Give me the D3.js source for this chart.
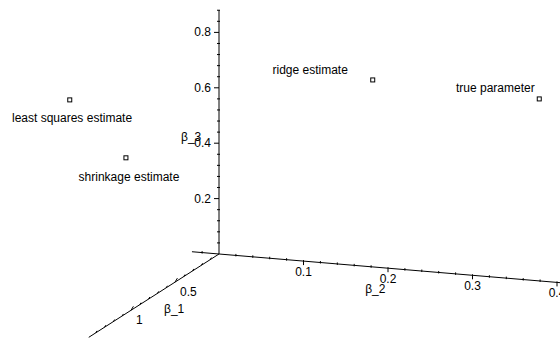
<!DOCTYPE html>
<html>
<head>
<meta charset="utf-8">
<script src="https://cdn.jsdelivr.net/npm/d3@7"></script>
<style>
  html, body { margin: 0; padding: 0; background: #fff; }
  svg { display: block; font-family: "Liberation Sans", Arial, sans-serif; }
</style>
</head>
<body>
<svg id="chart" width="560" height="343"></svg>
<script>
// estimates in (beta_1, beta_2, beta_3)
const names = ["least squares estimate", "shrinkage estimate", "ridge estimate", "true parameter"];
const beta1 = [1.6, 1.0, 0.5, 0.0];
const beta2 = [-0.01, -0.006, 0.234, 0.379];
const beta3 = [0.879, 0.549, 0.79, 0.657];
// where each caption sits in the same 3d space
const labelBeta1 = [1.6, 1.0, 0.5, 0.0];
const labelBeta2 = [-0.0073, -0.0024, 0.16, 0.327];
const labelBeta3 = [0.814, 0.481, 0.807, 0.683];

const b1TickLabels = [0.5, 1];
const b2TickLabels = [0.1, 0.2, 0.3, 0.4];
const b3TickLabels = [0.2, 0.4, 0.6, 0.8];

const width = 560, height = 343;
const origin = [219, 254];

// orthographic projection: each axis contributes a screen vector
const b1x = d3.scaleLinear().domain([0, 1]).range([0, -88]);
const b1y = d3.scaleLinear().domain([0, 1]).range([0, 56.3]);
const b2x = d3.scaleLinear().domain([0, 1]).range([0, 845]);
const b2y = d3.scaleLinear().domain([0, 1]).range([0, 71]);
const b3y = d3.scaleLinear().domain([0, 1]).range([0, -277]);
const project = (a, b, c) => [origin[0] + b1x(a) + b2x(b), origin[1] + b1y(a) + b2y(b) + b3y(c)];

const svg = d3.select("#chart");
svg.append("rect").attr("width", width).attr("height", height).attr("fill", "#fff");

const axes = svg.append("g").attr("stroke", "#000").attr("fill", "none").attr("stroke-width", 1);
const line = (p, q) => axes.append("line").attr("x1", p[0]).attr("y1", p[1]).attr("x2", q[0]).attr("y2", q[1]);

// axis lines
line(project(0, 0, 0), project(1.48, 0, 0));
line(project(0, -0.032, 0), project(0, 0.46, 0));
line(project(0, 0, 0), project(0, 0, 0.88));

const isMajor = (v, list) => list.some(t => Math.abs(t - v) < 1e-6);

// beta_1 ticks
d3.range(1, 15).map(i => i * 0.1).forEach(v => {
  const p = project(v, 0, 0);
  const len = isMajor(v, b1TickLabels) ? 4 : 2;
  line([p[0], p[1]], [p[0] + len * 0.6, p[1] - len]);
});
// beta_2 ticks
d3.range(-1, 23).map(i => i * 0.02).forEach(v => {
  if (Math.abs(v) < 1e-6) return;
  const p = project(0, v, 0);
  if (isMajor(v, b2TickLabels)) line([p[0], p[1] - 1], [p[0], p[1] + 4]);
  else line([p[0], p[1] - 1.5], [p[0], p[1] + 1]);
});
// beta_3 ticks
d3.range(1, 23).map(i => i * 0.04).forEach(v => {
  const p = project(0, 0, v);
  if (isMajor(v, b3TickLabels)) line([p[0] - 5, p[1]], [p[0], p[1]]);
  else line([p[0] - 2, p[1]], [p[0] + 1, p[1]]);
});

const text = svg.append("g").attr("fill", "#000").attr("font-size", 12);
b1TickLabels.forEach(v => {
  const p = project(v, 0, 0);
  text.append("text").attr("x", p[0] + 5).attr("y", p[1] + 14).text(v);
});
b2TickLabels.forEach(v => {
  const p = project(0, v, 0);
  text.append("text").attr("x", p[0]).attr("y", p[1] + 15).attr("text-anchor", "middle").text(v);
});
b3TickLabels.forEach(v => {
  const p = project(0, 0, v);
  text.append("text").attr("x", p[0] - 8).attr("y", p[1] + 4).attr("text-anchor", "end").text(v);
});

// axis titles
[["β_1", project(0.51, 0, -0.095)], ["β_2", project(0, 0.185, -0.079)], ["β_3", project(0, -0.033, 0.414)]]
  .forEach(([t, p]) => {
    text.append("text").attr("x", p[0]).attr("y", p[1] + 4).attr("text-anchor", "middle").text(t);
  });

// captions
names.forEach((n, i) => {
  const p = project(labelBeta1[i], labelBeta2[i], labelBeta3[i]);
  text.append("text").attr("x", p[0]).attr("y", p[1] + 4).attr("text-anchor", "middle").text(n);
});

// point markers
const pts = svg.append("g");
names.forEach((n, i) => {
  const [x, y] = project(beta1[i], beta2[i], beta3[i]);
  pts.append("rect").attr("x", x - 2).attr("y", y - 2).attr("width", 4).attr("height", 4)
    .attr("fill", "#fff").attr("stroke", "#000").attr("stroke-width", 1);
});
</script>
</body>
</html>
